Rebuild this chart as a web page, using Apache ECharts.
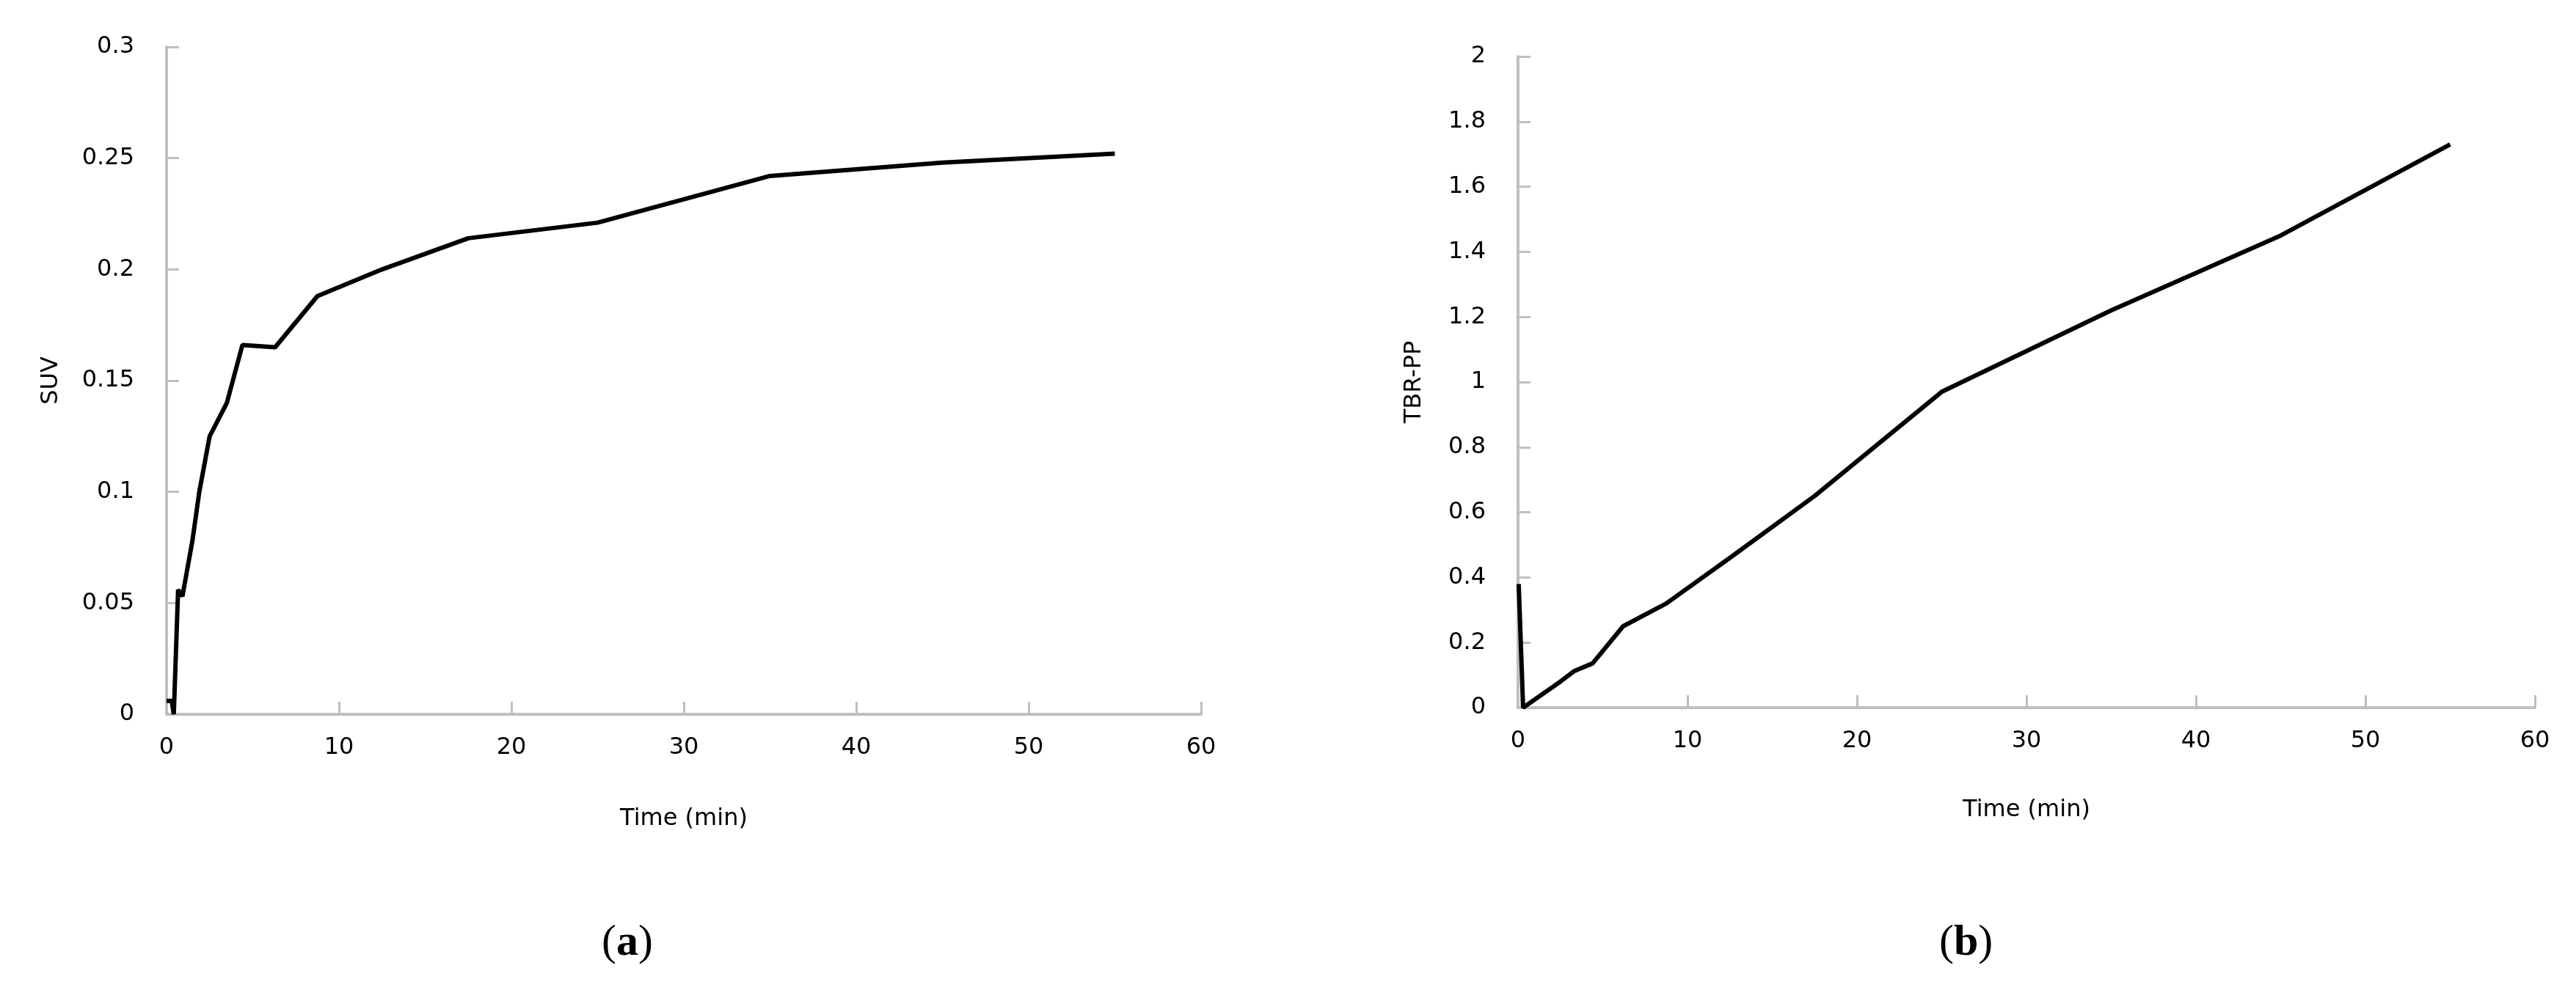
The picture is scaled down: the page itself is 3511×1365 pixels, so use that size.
<!DOCTYPE html>
<html>
<head>
<meta charset="utf-8">
<script src="https://cdn.jsdelivr.net/npm/echarts@6/dist/echarts.min.js"></script>
<style>
  html, body { margin: 0; padding: 0; background: #fff; }
  #main { width: 3511px; height: 1365px; }
</style>
</head>
<body>
<div id="main"></div>
<script>
// panel (a): SUV over time
var timeA = [0, 0.3, 0.42, 0.67, 0.92, 1.5, 1.9, 2.5, 3.5, 4.4, 6.3, 8.75, 12.5, 17.5, 25, 35, 45, 55];
var suv = [0.006, 0.006, 0, 0.056, 0.053, 0.078, 0.1, 0.125, 0.14, 0.166, 0.165, 0.188, 0.2, 0.214, 0.221, 0.242, 0.248, 0.252];

// panel (b): TBR-PP over time
var timeB = [0.04, 0.3, 2.5, 3.3, 4.4, 6.2, 8.75, 12.5, 17.5, 25, 35, 45, 55];
var tbr = [0.38, 0, 0.08, 0.112, 0.136, 0.25, 0.32, 0.46, 0.65, 0.97, 1.22, 1.45, 1.73];

var xTicks = [0, 10, 20, 30, 40, 50, 60];

function pairs(xs, ys) {
  return xs.map(function (x, i) { return [x, ys[i]]; });
}

var labelFont = 'DejaVu Sans';
var axisGrey = '#BFBFBF';

function xAxisCfg(idx, gap) {
  return {
    type: 'value', gridIndex: idx, min: xTicks[0], max: xTicks[xTicks.length - 1], interval: 10,
    name: 'Time (min)', nameLocation: 'middle', nameGap: gap,
    nameTextStyle: { fontFamily: labelFont, fontSize: 32, color: '#000' },
    axisLine: { show: true, lineStyle: { color: axisGrey, width: 4 } },
    axisTick: { show: true, inside: true, length: 17, lineStyle: { color: axisGrey, width: 3 } },
    axisLabel: { fontFamily: labelFont, fontSize: 32, color: '#000', margin: 30 },
    splitLine: { show: false }
  };
}

function yAxisCfg(idx, name, max, step, gap) {
  return {
    type: 'value', gridIndex: idx, min: 0, max: max, interval: step,
    name: name, nameLocation: 'middle', nameGap: gap, nameRotate: 90,
    nameTextStyle: { fontFamily: labelFont, fontSize: 32, color: '#000' },
    axisLine: { show: true, lineStyle: { color: axisGrey, width: 4 } },
    axisTick: { show: true, inside: true, length: 17, lineStyle: { color: axisGrey, width: 3 } },
    axisLabel: { fontFamily: labelFont, fontSize: 32, color: '#000', margin: 44 },
    splitLine: { show: false }
  };
}

function panelLabel(letter, left) {
  return {
    type: 'text', left: left, top: 1256,
    style: {
      rich: {
        p: { fontFamily: 'Liberation Serif', fontSize: 60, fill: '#000' },
        b: { fontFamily: 'Liberation Serif', fontSize: 60, fontWeight: 'bold', fill: '#000' }
      },
      text: '{p|(}{b|' + letter + '}{p|)}'
    }
  };
}

var chart = echarts.init(document.getElementById('main'));
chart.setOption({
  backgroundColor: '#fff',
  animation: false,
  grid: [
    { left: 227, top: 64, width: 1410, height: 910 },
    { left: 2069, top: 77, width: 1386, height: 888 }
  ],
  xAxis: [xAxisCfg(0, 127), xAxisCfg(1, 124)],
  yAxis: [yAxisCfg(0, 'SUV', 0.3, 0.05, 141), yAxisCfg(1, 'TBR-PP', 2, 0.2, 125)],
  series: [
    {
      type: 'line', xAxisIndex: 0, yAxisIndex: 0, data: pairs(timeA, suv),
      showSymbol: false, lineStyle: { color: '#000', width: 6 }
    },
    {
      type: 'line', xAxisIndex: 1, yAxisIndex: 1, data: pairs(timeB, tbr),
      showSymbol: false, lineStyle: { color: '#000', width: 6 }
    }
  ],
  graphic: [panelLabel('a', 820), panelLabel('b', 2643)]
});
</script>
</body>
</html>
